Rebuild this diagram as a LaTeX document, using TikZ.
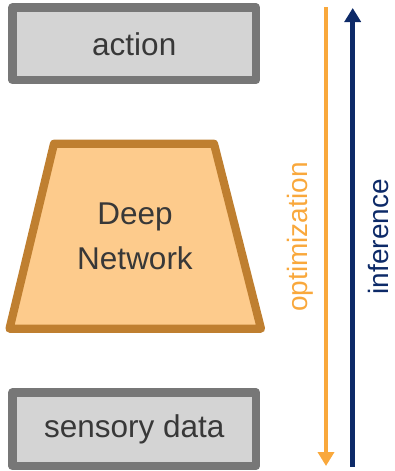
\documentclass[tikz,border=0pt]{standalone}
\usepackage{fontspec}
\setmainfont{Liberation Sans}
\usetikzlibrary{arrows.meta}
\definecolor{boxline}{HTML}{777777}
\definecolor{boxfill}{HTML}{D4D4D4}
\definecolor{netline}{HTML}{BF7F30}
\definecolor{netfill}{HTML}{FDCB8C}
\definecolor{optcol}{HTML}{F9A83C}
\definecolor{infcol}{HTML}{0D2A68}
\definecolor{txt}{HTML}{383838}
\tikzset{
  iobox/.style={draw=boxline, fill=boxfill, line width=8.4pt, line join=round,
    inner sep=0pt, text=txt, font=\fontsize{31.5}{40}\selectfont},
  flowarrow/.style={line width=4.5pt, -{Triangle[width=16pt,length=14pt]}},
  flowlabel/.style={rotate=90, anchor=base, font=\fontsize{28}{34}\selectfont}
}
\begin{document}
\begin{tikzpicture}[x=1pt,y=-1pt]
\useasboundingbox (0,0) rectangle (394,471);
% input and output boxes
\node[iobox, minimum width=243.5pt, minimum height=72.5pt] (action) at (134.25,43.75) {action};
\node[iobox, minimum width=243.5pt, minimum height=73.5pt] (sensory) at (134.25,429.25) {sensory data};
% the network, drawn as a trapezoid
\draw[draw=netline, fill=netfill, line width=8.2pt, line join=round]
  (54,143.7) -- (214,143.7) -- (261,328.7) -- (9.5,328.7) -- cycle;
\node[text=txt, align=center, font=\fontsize{31.5}{45.3}\selectfont] (net) at (135,236) {Deep\\Network};
% direction arrows
\coordinate (optTop) at (326,7);
\coordinate (optBot) at (326,466);
\coordinate (infBot) at (352.7,466.5);
\coordinate (infTop) at (352.7,8);
\draw[flowarrow, optcol] (optTop) -- (optBot);
\draw[flowarrow, infcol] (infBot) -- (infTop);
\node[flowlabel, text=optcol] (opt) at (307,237) {optimization};
\node[flowlabel, text=infcol] (inf) at (388.3,236.7) {inference};
\end{tikzpicture}
\end{document}
